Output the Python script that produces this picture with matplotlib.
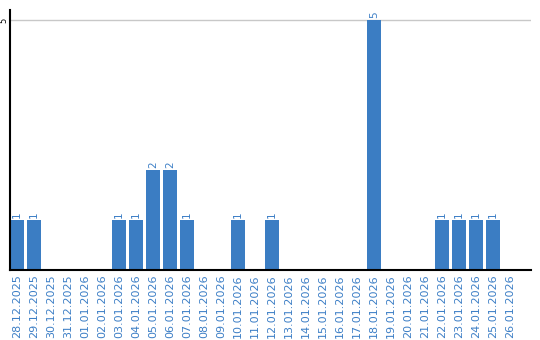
import matplotlib
matplotlib.use("Agg")
import matplotlib.pyplot as plt

dates = [
    "28.12.2025", "29.12.2025", "30.12.2025", "31.12.2025", "01.01.2026",
    "02.01.2026", "03.01.2026", "04.01.2026", "05.01.2026", "06.01.2026",
    "07.01.2026", "08.01.2026", "09.01.2026", "10.01.2026", "11.01.2026",
    "12.01.2026", "13.01.2026", "14.01.2026", "15.01.2026", "16.01.2026",
    "17.01.2026", "18.01.2026", "19.01.2026", "20.01.2026", "21.01.2026",
    "22.01.2026", "23.01.2026", "24.01.2026", "25.01.2026", "26.01.2026",
]
counts = [1, 1, 0, 0, 0, 0, 1, 1, 2, 2, 1, 0, 0, 1, 0, 1, 0, 0, 0, 0,
          0, 5, 0, 0, 0, 1, 1, 1, 1, 0]

bar_color = "#3b7dc3"
label_color = "#3d7fc6"

fig = plt.figure(figsize=(5.4, 3.4), dpi=100)
ax = fig.add_axes([10 / 540, 70 / 340, 521 / 540, 260 / 340])

x = list(range(len(dates)))
bars = ax.bar(x, counts, width=0.82, color=bar_color, zorder=2)

for xi, v in zip(x, counts):
    if v > 0:
        ax.text(xi, v + 0.04, str(v), rotation=90, ha="center", va="bottom",
                color=label_color, fontsize=7.5)

ax.set_xlim(-0.41, 30.24)
ax.set_ylim(0, 5.2)
ax.set_xticks(x)
ax.set_xticklabels(dates, rotation=90, color=label_color, fontsize=8)
ax.set_yticks([5])
ax.set_yticklabels(["5"], rotation=90, va="center", fontsize=6)
ax.tick_params(length=0, pad=3)
ax.tick_params(axis="y", pad=1)
ax.grid(axis="y", color="#c8c8c8", linewidth=1, zorder=0)

for side in ["top", "right"]:
    ax.spines[side].set_visible(False)
ax.spines["left"].set_linewidth(1.5)
ax.spines["bottom"].set_linewidth(1.5)

fig.savefig("out.png", dpi=100, facecolor="white")
